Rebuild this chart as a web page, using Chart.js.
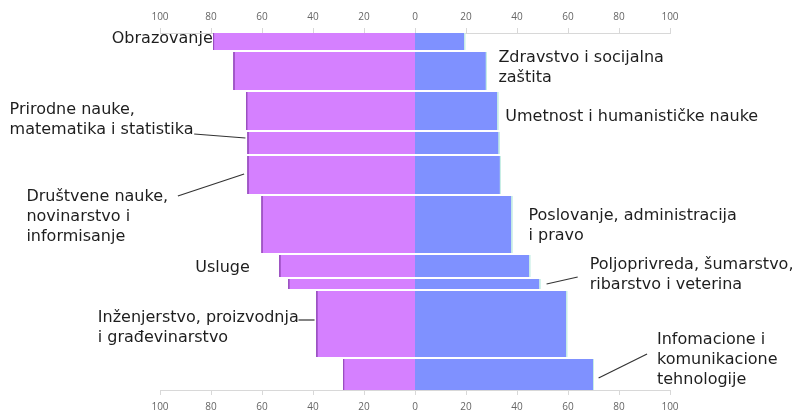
<!DOCTYPE html>
<html>
<head>
<meta charset="utf-8">
<script src="https://cdn.jsdelivr.net/npm/chart.js@4/dist/chart.umd.min.js"></script>
<style>
  html, body { margin: 0; padding: 0; background: #fff; }
  #wrap { width: 792px; height: 415px; }
</style>
</head>
<body>
<div id="wrap"><canvas id="butterfly" width="792" height="415"></canvas></div>
<script>
// rows from top to bottom
const categories = [
  'Obrazovanje',
  'Zdravstvo i socijalna zaštita',
  'Umetnost i humanističke nauke',
  'Prirodne nauke, matematika i statistika',
  'Društvene nauke, novinarstvo i informisanje',
  'Poslovanje, administracija i pravo',
  'Usluge',
  'Poljoprivreda, šumarstvo, ribarstvo i veterina',
  'Inženjerstvo, proizvodnja i građevinarstvo',
  'Infomacione i komunikacione tehnologije'
];
const leftValues  = [79, 71, 66, 65.5, 65.5, 60, 53, 49.5, 38.5, 28];
const rightValues = [19.5, 28, 32.5, 33, 33.5, 38, 45, 49, 59.5, 70];
const rowSizes    = [18, 40, 40, 24, 40, 59, 24, 12, 68, 32];
const tickValues  = [-100, -80, -60, -40, -20, 0, 20, 40, 60, 80, 100];

// label text broken into lines, same order as categories
const labelLines = [
  ['Obrazovanje'],
  ['Zdravstvo i socijalna', 'zaštita'],
  ['Umetnost i humanističke nauke'],
  ['Prirodne nauke,', 'matematika i statistika'],
  ['Društvene nauke,', 'novinarstvo i', 'informisanje'],
  ['Poslovanje, administracija', 'i pravo'],
  ['Usluge'],
  ['Poljoprivreda, šumarstvo,', 'ribarstvo i veterina'],
  ['Inženjerstvo, proizvodnja', 'i građevinarstvo'],
  ['Infomacione i', 'komunikacione', 'tehnologije']
];

// where each label sits (axis units), and its leader line if any
const labelPlace = [
  { x: -79.3, y: 5.5, align: 'right' },
  { x: 32.7,  y: 25,  align: 'left' },
  { x: 35.4,  y: 84,  align: 'left' },
  { x: -159,  y: 77,  align: 'left', lead: [-86.6, 101, -66.5, 105] },
  { x: -152.4, y: 164, align: 'left', lead: [-93, 163, -67, 141] },
  { x: 44.5,  y: 183, align: 'left' },
  { x: -86.2, y: 235, align: 'left' },
  { x: 68.5,  y: 232, align: 'left', lead: [51.6, 251, 63.8, 244] },
  { x: -124.4, y: 285, align: 'left', lead: [-45.7, 287, -39.4, 287] },
  { x: 94.9,  y: 307, align: 'left', lead: [72, 345, 91, 321] }
];

const purple = '#d580ff';
const blue = '#7f91ff';
const total = rowSizes.reduce((a, b) => a + b, 0);

const bounds = [0];
rowSizes.forEach(s => bounds.push(bounds[bounds.length - 1] + s));

function barSet(i, value, side, color, edge) {
  const v = side * value;
  return {
    label: categories[i],
    data: [{x: v, y: bounds[i]}, {x: v, y: bounds[i + 1]}],
    backgroundColor: color,
    borderColor: edge,
    borderWidth: 1,
    fill: 'origin',
    pointRadius: 0,
    tension: 0
  };
}

const datasets = [];
categories.forEach((c, i) => {
  datasets.push(barSet(i, leftValues[i], -1, purple, '#9a4fc0'));
  datasets.push(barSet(i, rightValues[i], 1, blue, '#c8eee6'));
});

const labelPlugin = {
  id: 'rowLabels',
  afterDraw(chart) {
    const ctx = chart.ctx;
    const xs = chart.scales.x, ys = chart.scales.y;
    ctx.save();
    ctx.font = '16px "DejaVu Sans"';
    ctx.fillStyle = '#1e1e1e';
    ctx.textBaseline = 'middle';
    labelPlace.forEach((p, i) => {
      ctx.textAlign = p.align;
      const px = xs.getPixelForValue(p.x);
      labelLines[i].forEach((t, k) => {
        ctx.fillText(t, px, ys.getPixelForValue(p.y) + k * 20);
      });
      if (p.lead) {
        ctx.beginPath();
        ctx.strokeStyle = '#333';
        ctx.lineWidth = 1.2;
        ctx.moveTo(xs.getPixelForValue(p.lead[0]), ys.getPixelForValue(p.lead[1]));
        ctx.lineTo(xs.getPixelForValue(p.lead[2]), ys.getPixelForValue(p.lead[3]));
        ctx.stroke();
      }
    });
    ctx.restore();
  }
};

function axis(pos, h, pad) {
  return {
    type: 'linear',
    position: pos,
    min: -100,
    max: 100,
    afterBuildTicks: s => { s.ticks = tickValues.map(v => ({value: v})); },
    afterFit: s => { s.height = h; },
    ticks: {
      callback: v => Math.abs(v),
      color: '#666',
      font: { family: 'Open Sans', size: 10 },
      padding: pad,
      maxRotation: 0
    },
    grid: { drawOnChartArea: false, drawTicks: true, tickLength: 5, color: '#d8d8d8' },
    border: { color: '#d8d8d8' }
  };
}

new Chart(document.getElementById('butterfly'), {
  type: 'line',
  data: { datasets: datasets },
  options: {
    indexAxis: 'y',
    responsive: false,
    animation: false,
    layout: { padding: { left: 160, right: 122, top: 6, bottom: 0 } },
    plugins: { legend: { display: false }, tooltip: { enabled: false } },
    scales: {
      x: axis('bottom', 25, 6),
      x2: axis('top', 27, 5),
      y: {
        type: 'linear', min: 0, max: total, reverse: true,
        afterBuildTicks: s => { s.ticks = bounds.slice(1, -1).map(v => ({value: v})); },
        afterFit: s => { s.width = 0; },
        ticks: { display: false },
        grid: { color: '#ffffff', lineWidth: 2, drawTicks: false, z: 1 },
        border: { display: false }
      }
    }
  },
  plugins: [labelPlugin]
});
</script>
</body>
</html>
